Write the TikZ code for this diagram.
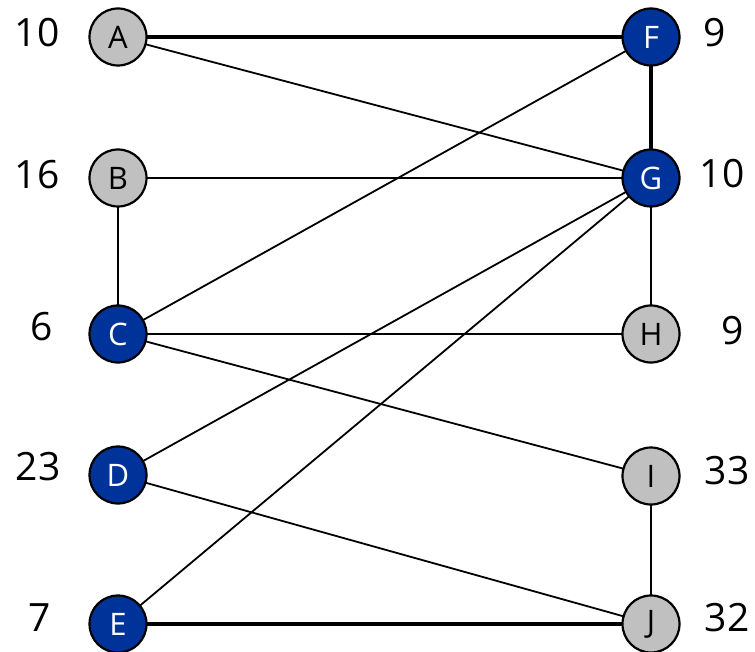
\documentclass[tikz,border=0pt]{standalone}
\usepackage{fontspec}
\setmainfont{Open Sans}
\definecolor{nodeblue}{RGB}{0,51,153}
\definecolor{nodegray}{RGB}{192,192,192}
\begin{document}
\begin{tikzpicture}[x=1pt,y=-1pt,
  vert/.style={circle,draw=black,line width=2.2pt,minimum size=57pt,inner sep=0pt,font=\fontsize{31}{33}\selectfont},
  grayv/.style={vert,fill=nodegray,text=black},
  bluev/.style={vert,fill=nodeblue,text=white},
  wt/.style={font=\fontsize{39}{42}\selectfont,inner sep=0pt},
  thin/.style={line width=1.8pt},
  mid/.style={line width=2.5pt},
  heavy/.style={line width=3.2pt}]
\useasboundingbox (0,0) rectangle (755,652);
% edges first, so the vertices sit on top
\coordinate (pA) at (118,37);
\coordinate (pB) at (118,178);
\coordinate (pC) at (118,334);
\coordinate (pD) at (118,475);
\coordinate (pE) at (118,624);
\coordinate (pF) at (651,37);
\coordinate (pG) at (651,178);
\coordinate (pH) at (651,334);
\coordinate (pI) at (651,476);
\coordinate (pJ) at (651,624);
\draw[heavy] (pA) -- (pF);
\draw[thin] (pA) -- (pG);
\draw[thin] (pB) -- (pG);
\draw[mid] (pB) -- (pC);
\draw[thin] (pC) -- (pF);
\draw[thin] (pC) -- (pH);
\draw[thin] (pC) -- (pI);
\draw[thin] (pD) -- (pG);
\draw[thin] (pD) -- (pJ);
\draw[thin] (pE) -- (pG);
\draw[heavy] (pE) -- (pJ);
\draw[heavy] (pF) -- (pG);
\draw[mid] (pG) -- (pH);
\draw[mid] (pI) -- (pJ);
% vertices
\node[grayv] (A) at (pA) {A};
\node[grayv] (B) at (pB) {B};
\node[bluev] (C) at (pC) {C};
\node[bluev] (D) at (pD) {D};
\node[bluev] (E) at (pE) {E};
\node[bluev] (F) at (pF) {F};
\node[bluev] (G) at (pG) {G};
\node[grayv] (H) at (pH) {H};
\node[grayv] (I) at (pI) {I};
\node[grayv] (J) at (pJ) {J};
% weights
\node[wt] (wA) at (37,33) {10};
\node[wt] (wB) at (37,175) {16};
\node[wt] (wC) at (42,327) {6};
\node[wt] (wD) at (38,467) {23};
\node[wt] (wE) at (40,618) {7};
\node[wt] (wF) at (715,33) {9};
\node[wt] (wG) at (722,174) {10};
\node[wt] (wH) at (733,331) {9};
\node[wt] (wI) at (727,471) {33};
\node[wt] (wJ) at (727,618) {32};
\end{tikzpicture}
\end{document}
